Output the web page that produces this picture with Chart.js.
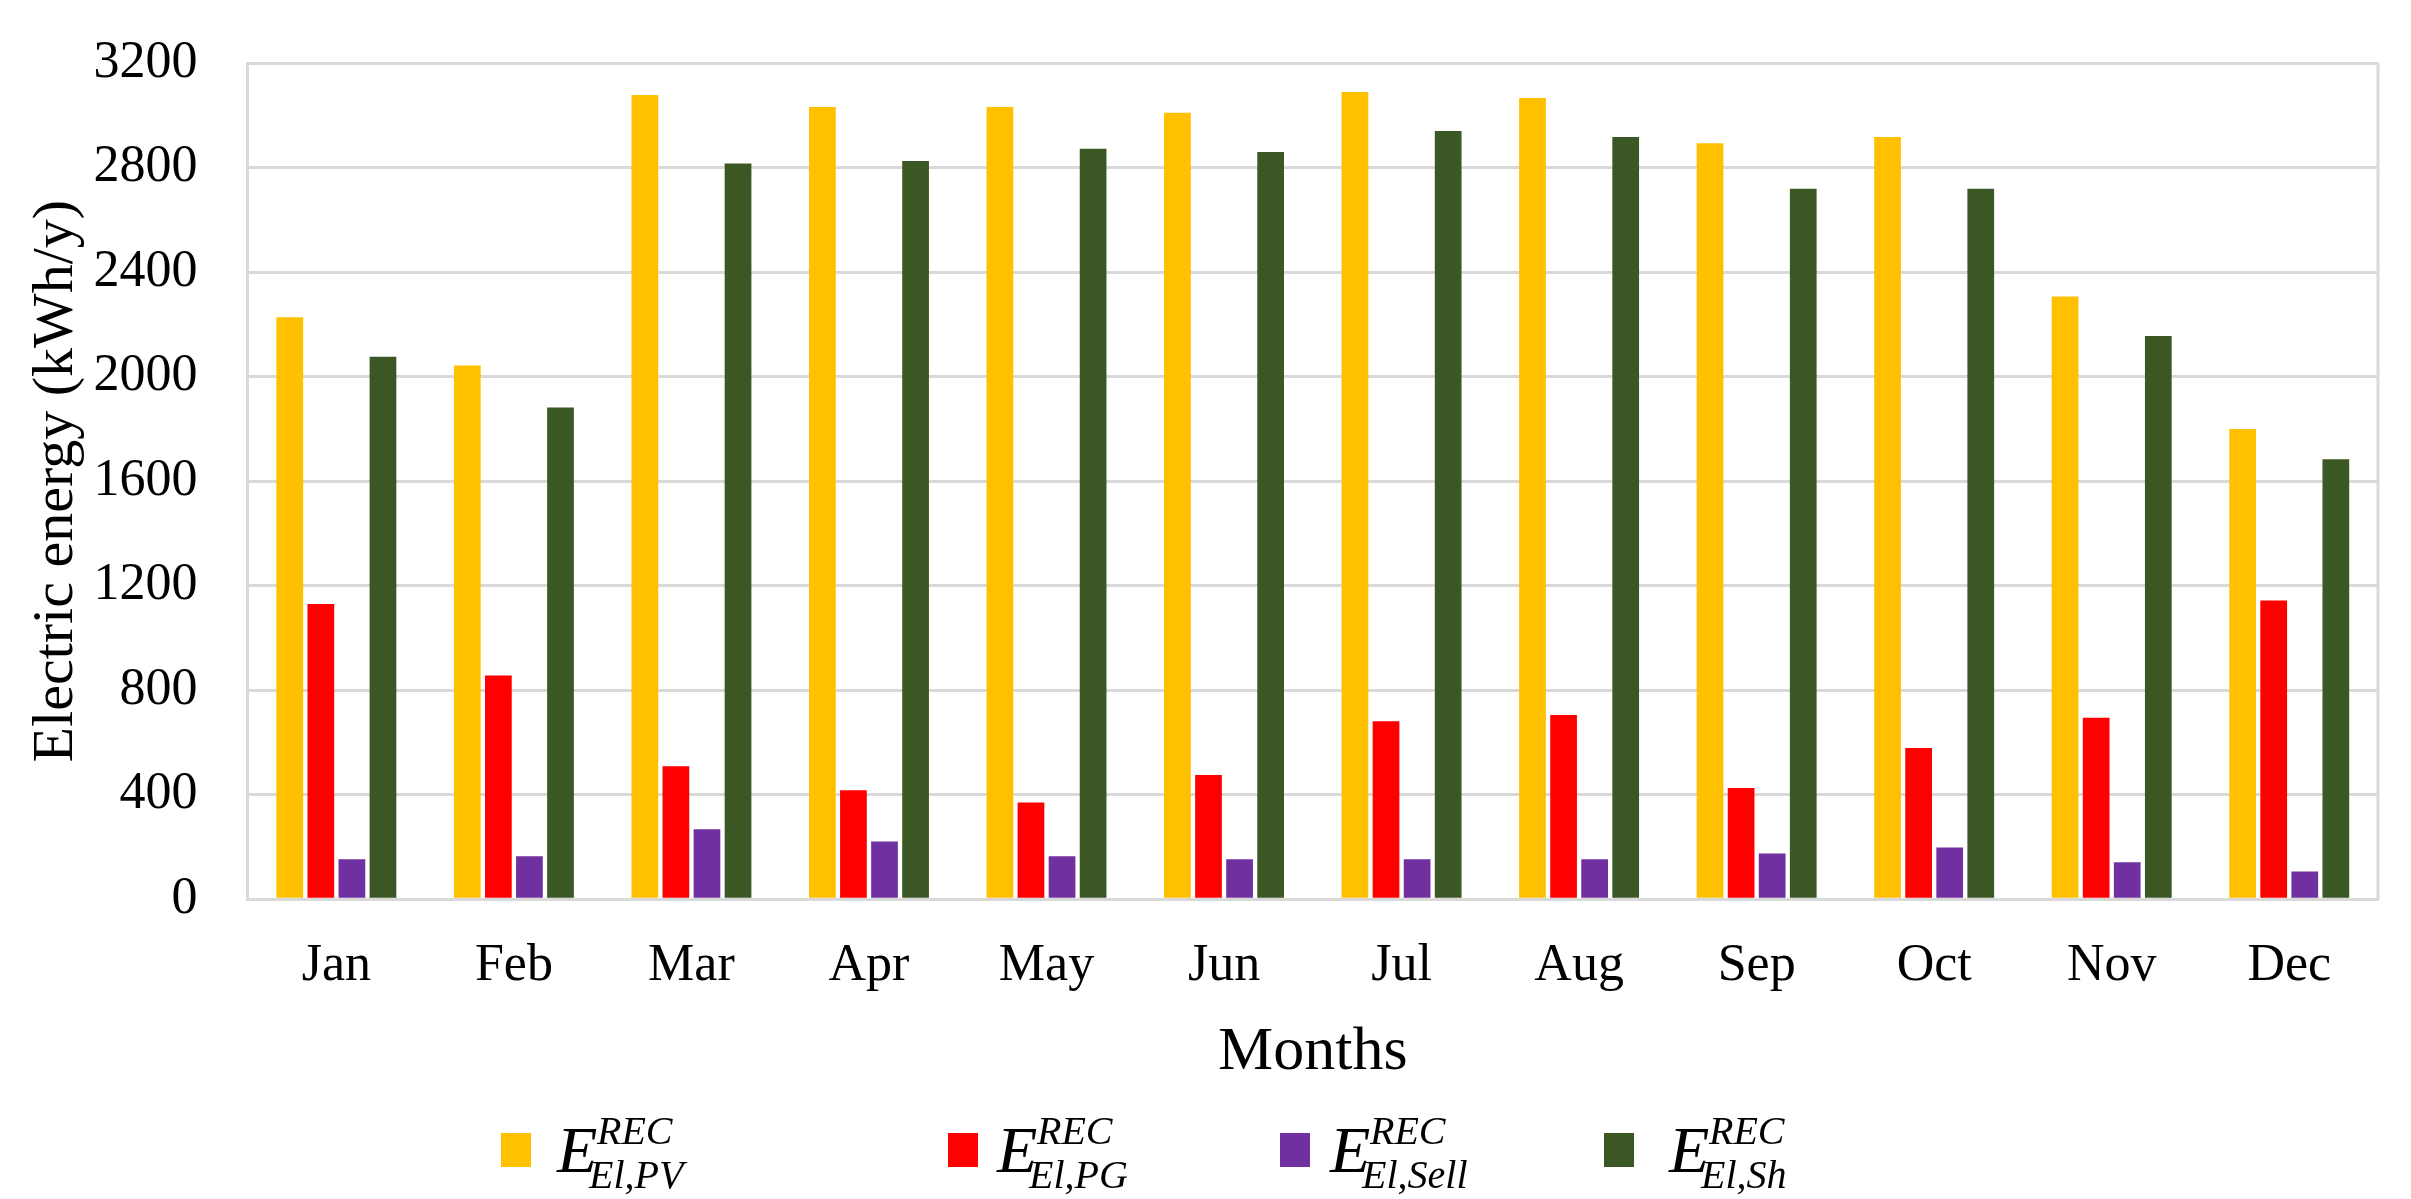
<!DOCTYPE html>
<html>
<head>
<meta charset="utf-8">
<script src="https://cdn.jsdelivr.net/npm/chart.js@4.4.1/dist/chart.umd.min.js"></script>
<style>
  html, body { margin: 0; padding: 0; background: #fff; }
  #wrap { position: relative; width: 2411px; height: 1199px; }
  #legend { position: absolute; left: 0; top: 0; width: 2411px; height: 1199px; pointer-events: none;
            font-family: "Liberation Serif", serif; font-style: italic; color: #000; }
  #legend span, #legend div { position: absolute; white-space: nowrap; }
  .box { top: 1133px; width: 30px; height: 34px; }
  .big { top: 1117px; font-size: 66px; line-height: 66px; }
  .sup { top: 1111px; font-size: 40px; line-height: 40px; }
  .sub { top: 1155px; font-size: 40px; line-height: 40px; }
</style>
</head>
<body>
<div id="wrap">
  <canvas id="energyChart" width="2411" height="1199"></canvas>
  <div id="legend"></div>
</div>
<script>
const months = ['Jan', 'Feb', 'Mar', 'Apr', 'May', 'Jun', 'Jul', 'Aug', 'Sep', 'Oct', 'Nov', 'Dec'];
const pvEnergy = [2227, 2042, 3078, 3032, 3032, 3010, 3089, 3066, 2893, 2917, 2306, 1799];
const pgEnergy = [1130, 856, 509, 417, 370, 475, 681, 705, 426, 579, 694, 1143];
const sellEnergy = [153, 164, 268, 221, 164, 153, 153, 153, 175, 198, 141, 106];
const shEnergy = [2076, 1882, 2815, 2825, 2872, 2859, 2940, 2917, 2719, 2719, 2155, 1684];
const yTicks = [0, 400, 800, 1200, 1600, 2000, 2400, 2800, 3200];

// legend subscripts
const legendSubs = ['El,PV', 'El,PG', 'El,Sell', 'El,Sh'];

// legend layout: box left and text left, in px
const legendBoxX = [501, 948, 1280, 1604];
const legendTextX = [557, 997, 1330, 1669];

const gridColor = '#d9d9d9';

const rightBorder = {
    id: 'rightBorder',
    beforeDatasetsDraw(chart) {
        const a = chart.chartArea;
        const ctx = chart.ctx;
        ctx.save();
        ctx.strokeStyle = gridColor;
        ctx.lineWidth = 3;
        ctx.beginPath();
        ctx.moveTo(a.right, a.top);
        ctx.lineTo(a.right, a.bottom);
        ctx.stroke();
        ctx.restore();
    }
};

const chart = new Chart(document.getElementById('energyChart'), {
    type: 'bar',
    data: {
        labels: months,
        datasets: [
            { label: 'E_El,PV', data: pvEnergy, backgroundColor: '#ffc000' },
            { label: 'E_El,PG', data: pgEnergy, backgroundColor: '#ff0000' },
            { label: 'E_El,Sell', data: sellEnergy, backgroundColor: '#7030a0' },
            { label: 'E_El,Sh', data: shEnergy, backgroundColor: '#3a5724' }
        ]
    },
    options: {
        responsive: false,
        animation: false,
        devicePixelRatio: 1,
        categoryPercentage: 0.7,
        barPercentage: 0.86,
        layout: { padding: { left: 22, right: 33, top: 63, bottom: 109 } },
        scales: {
            x: {
                grid: { display: false },
                border: { display: true, color: gridColor, width: 3 },
                ticks: { color: '#000', padding: 28, font: { family: 'Liberation Serif', size: 52 } },
                title: {
                    display: true,
                    text: 'Months',
                    color: '#000',
                    padding: { top: -10, bottom: 0 },
                    font: { family: 'Liberation Serif', size: 62 }
                }
            },
            y: {
                min: 0,
                max: 3200,
                afterBuildTicks: (axis) => { axis.ticks = yTicks.map(v => ({ value: v })); },
                // invisible tick marks keep the labels clear of the axis
                grid: { color: gridColor, lineWidth: 3, drawTicks: true, tickLength: 42, tickColor: 'rgba(0,0,0,0)' },
                border: { display: true, color: gridColor, width: 3 },
                ticks: {
                    color: '#000',
                    padding: 8,
                    font: { family: 'Liberation Serif', size: 52 },
                    callback: (v) => String(v)
                },
                title: {
                    display: true,
                    text: 'Electric energy (kWh/y)',
                    color: '#000',
                    padding: { top: 0, bottom: -6 },
                    font: { family: 'Liberation Serif', size: 58 }
                }
            }
        },
        plugins: {
            legend: { display: false },
            tooltip: { enabled: false }
        }
    },
    plugins: [rightBorder]
});

// html legend so the super/subscripts stay real text
const legend = document.getElementById('legend');
chart.data.datasets.forEach((ds, i) => {
    const tx = legendTextX[i];
    legend.insertAdjacentHTML('beforeend',
        '<div class="box" style="left:' + legendBoxX[i] + 'px;background:' + ds.backgroundColor + '"></div>' +
        '<span class="big" style="left:' + tx + 'px">E</span>' +
        '<span class="sup" style="left:' + (tx + 40) + 'px">REC</span>' +
        '<span class="sub" style="left:' + (tx + 32) + 'px">' + legendSubs[i] + '</span>');
});
</script>
</body>
</html>
